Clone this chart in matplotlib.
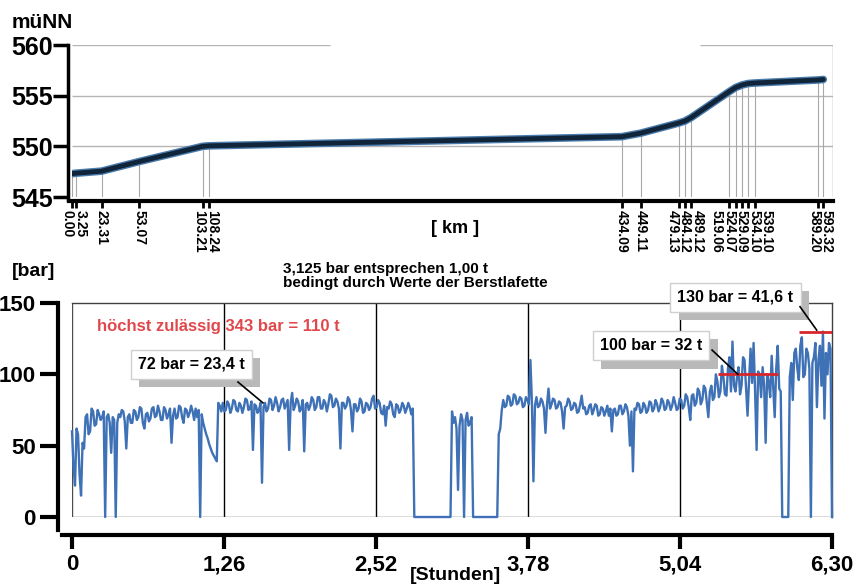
import numpy as np
import matplotlib
matplotlib.use('Agg')
import matplotlib.pyplot as plt
import matplotlib.patheffects as pe

plt.rcParams['font.family'] = ['Liberation Sans', 'DejaVu Sans']
plt.rcParams['font.weight'] = 'bold'

# Hoehenprofil der Strecke
km = [0.00, 3.25, 23.31, 53.07, 103.21, 108.24, 434.09, 449.11, 479.13, 484.12,
      489.12, 519.06, 524.07, 529.09, 534.10, 539.10, 589.20, 593.32]
hoehe = [547.3, 547.35, 547.55, 548.5, 550.0, 550.05, 550.95, 551.3, 552.3, 552.5,
         552.85, 555.4, 555.8, 556.05, 556.2, 556.25, 556.55, 556.6]
km_labels = ['%.2f' % k for k in km]
hoehe_ticks = [545, 550, 555, 560]

# Druckverlauf, ein Wert je 0,0125 h (eine Zeile = 0,25 h)
dt = 0.0125
druck = [
    60, 35, 22, 62, 58, 30, 15, 52, 48, 70, 72, 58, 60, 76, 74, 64, 65, 75, 72, 68,
    70, 74, 0, 70, 72, 66, 45, 70, 68, 0, 66, 72, 70, 75, 74, 67, 48, 70, 72, 66,
    66, 75, 74, 68, 70, 77, 76, 66, 62, 72, 73, 67, 69, 76, 77, 70, 71, 78, 74, 68,
    68, 77, 75, 69, 72, 76, 52, 71, 76, 69, 70, 78, 77, 70, 66, 76, 75, 70, 73, 78,
    74, 68, 76, 70, 75, 0, 72, 66, 62, 58, 55, 51, 48, 45, 43, 41, 39, 80, 78, 74,
    80, 74, 75, 81, 79, 73, 76, 82, 81, 75, 74, 80, 78, 73, 77, 83, 82, 75, 76, 81,
    47, 79, 78, 73, 75, 80, 24, 77, 80, 74, 76, 83, 82, 75, 78, 84, 80, 74, 77, 82,
    83, 76, 79, 82, 47, 80, 87, 75, 78, 83, 81, 74, 76, 82, 46, 79, 80, 75, 78, 84,
    82, 75, 77, 84, 84, 76, 76, 82, 80, 74, 79, 86, 85, 77, 78, 83, 81, 76, 48, 80,
    80, 76, 78, 84, 82, 75, 60, 79, 79, 74, 76, 83, 81, 73, 74, 80, 79, 75, 77, 83,
    85, 76, 77, 82, 80, 73, 72, 78, 64, 77, 76, 81, 79, 72, 70, 79, 78, 73, 75, 80,
    78, 73, 76, 80, 77, 72, 76, 0, 0, 0, 0, 0, 0, 0, 0, 0, 0, 0, 0, 0,
    0, 0, 0, 0, 0, 0, 0, 0, 0, 0, 0, 0, 74, 66, 70, 62, 19, 64, 72, 68,
    0, 68, 73, 64, 66, 70, 0, 0, 0, 0, 0, 0, 0, 0, 0, 0, 0, 0, 0, 0,
    0, 0, 0, 58, 62, 75, 82, 77, 78, 85, 84, 78, 79, 86, 85, 79, 80, 84, 83, 77,
    78, 84, 82, 79, 110, 80, 25, 78, 84, 77, 78, 83, 81, 76, 59, 79, 90, 76, 79, 83,
    82, 76, 77, 81, 80, 74, 62, 77, 78, 83, 81, 75, 76, 80, 79, 73, 74, 79, 85, 76,
    77, 72, 73, 78, 79, 72, 75, 79, 78, 71, 72, 77, 76, 71, 74, 78, 71, 76, 60, 75,
    76, 71, 72, 78, 78, 72, 74, 79, 77, 71, 50, 74, 32, 76, 75, 80, 79, 73, 74, 80,
    78, 73, 75, 81, 80, 74, 76, 82, 79, 74, 77, 83, 81, 75, 76, 82, 80, 75, 78, 84,
    80, 75, 76, 83, 82, 76, 78, 86, 84, 77, 68, 85, 86, 78, 80, 90, 88, 79, 82, 92,
    90, 80, 70, 88, 92, 82, 84, 100, 95, 84, 88, 106, 98, 86, 85, 104, 112, 88, 123, 92,
    88, 98, 105, 86, 92, 112, 110, 90, 71, 96, 118, 94, 122, 88, 47, 102, 100, 84, 105, 92,
    52, 100, 95, 84, 113, 92, 70, 104, 120, 90, 88, 0, 0, 0, 0, 0, 98, 108, 82, 115,
    118, 104, 96, 120, 126, 98, 100, 118, 115, 104, 0, 108, 112, 122, 77, 110, 120, 92, 130, 69,
    115, 100, 122, 118, 0,
]
stunden = np.arange(len(druck)) * dt
stunden_ticks = [0, 1.26, 2.52, 3.78, 5.04, 6.30]
stunden_labels = ['0', '1,26', '2,52', '3,78', '5,04', '6,30']
bar_ticks = [0, 50, 100, 150]

# markierte Druckwerte
marken_text = ['72 bar = 23,4 t', '100 bar = 32 t', '130 bar = 41,6 t']
grenz_bar = [100, 130]
grenz_von = [5.355, 6.03]
grenz_bis = [5.853, 6.30]


def spread(pos, gap):
    # zu nahe Beschriftungen auseinanderschieben, Gruppe um ihre Ticks zentriert
    clusters = [[p] for p in pos]
    i = 0
    while i < len(clusters) - 1:
        a, b = clusters[i], clusters[i + 1]
        a_right = np.mean(a) + (len(a) - 1) * gap / 2
        b_left = np.mean(b) - (len(b) - 1) * gap / 2
        if b_left - a_right < gap:
            clusters[i] = a + b
            del clusters[i + 1]
            i = max(i - 1, 0)
        else:
            i += 1
    out = []
    for c in clusters:
        m = np.mean(c)
        out += [m + (k - (len(c) - 1) / 2) * gap for k in range(len(c))]
    return out


def kasten(ax, x, y, text):
    t = ax.text(x, y, text, ha='center', va='center', fontsize=11.5, zorder=6,
                bbox=dict(boxstyle='square,pad=0.45', fc='white', ec='#cfcfcf', lw=1))
    t.get_bbox_patch().set_path_effects([
        pe.SimplePatchShadow(offset=(6, -6), shadow_rgbFace='#b9b9b9', alpha=1),
        pe.Normal()])


fig = plt.figure(figsize=(8.55, 5.87), dpi=100)

# ---- oben: Hoehenprofil ----
ax1 = fig.add_axes([72 / 855, 1 - 197 / 587, 761 / 855, 152 / 587])
xmax1 = 601
ax1.set_xlim(0, xmax1)
ax1.set_ylim(545, 560)
ax1.hlines([550, 555], 0, xmax1, color='#b5b5b5', lw=1, zorder=1)
ax1.hlines(560, 0, 204, color='#b5b5b5', lw=1, zorder=1)
ax1.hlines(560, 496, xmax1, color='#b5b5b5', lw=1, zorder=1)
ax1.vlines(xmax1, 545, 560, color='#9a9a9a', lw=1, zorder=1)
ax1.vlines(km, 545, hoehe, color='#a8a8a8', lw=0.8, zorder=2)
ax1.plot(km, hoehe, color='#4a7bab', lw=5.5, solid_capstyle='round', zorder=3)
ax1.plot(km, hoehe, color='#10243a', lw=3.5, solid_capstyle='round', zorder=4)

for s in ['top', 'right']:
    ax1.spines[s].set_visible(False)
ax1.spines['left'].set_position(('outward', 3))
ax1.spines['left'].set_linewidth(2.5)
ax1.spines['left'].set_bounds(544.7, 560)
ax1.spines['bottom'].set_position(('outward', 3))
ax1.spines['bottom'].set_linewidth(3)
ax1.spines['bottom'].set_bounds(-2.4, xmax1)
ax1.set_yticks(hoehe_ticks)
ax1.tick_params(axis='y', length=11, width=2.5, pad=0, labelsize=18)
ax1.set_xticks(km)
ax1.set_xticklabels([])
ax1.tick_params(axis='x', length=5, width=2)

gap_km = 12.5 * xmax1 / 761
for x, lab in zip(spread(km, gap_km), km_labels):
    ax1.text(x, -0.085, lab, transform=ax1.get_xaxis_transform(), rotation=270,
             ha='center', va='top', fontsize=10)

fig.text(12 / 855, 1 - 22 / 587, 'müNN', fontsize=15, va='center')
fig.text(455 / 855, 1 - 228 / 587, '[ km ]', fontsize=13, ha='center', va='center')

# ---- unten: Druckverlauf ----
ax2 = fig.add_axes([72 / 855, 1 - 517 / 587, 760 / 855, 214 / 587])
ax2.set_xlim(0, 6.3)
ax2.set_ylim(0, 150)
ax2.vlines(stunden_ticks[1:-1], 0, 150, color='black', lw=1, zorder=1)
ax2.axvline(0, color='0.3', lw=1, zorder=1)
ax2.axhline(0, color='0.3', lw=1, zorder=1)
ax2.plot(stunden, druck, color='#3e71b6', lw=1.7, zorder=3, clip_on=False)
ax2.hlines(grenz_bar, grenz_von, grenz_bis, color='#d8262c', lw=2, zorder=4)

for s in ['top', 'right']:
    ax2.spines[s].set_linewidth(1)
    ax2.spines[s].set_color('0.25')
ax2.spines['left'].set_position(('outward', 10))
ax2.spines['left'].set_linewidth(3)
ax2.spines['left'].set_bounds(-9.1, 150)
ax2.spines['bottom'].set_position(('outward', 13))
ax2.spines['bottom'].set_linewidth(3)
ax2.spines['bottom'].set_bounds(-0.083, 6.3)
ax2.set_yticks(bar_ticks)
ax2.tick_params(axis='y', length=13, width=3, pad=3, labelsize=16)
ax2.set_xticks(stunden_ticks)
ax2.set_xticklabels(stunden_labels)
ax2.tick_params(axis='x', length=10, width=3, pad=4, labelsize=16)

kasten(ax2, 0.99, 107, marken_text[0])
kasten(ax2, 4.80, 120, marken_text[1])
kasten(ax2, 5.50, 154, marken_text[2])
ax2.plot([1.376, 1.583], [94.6, 80], color='black', lw=1.2, zorder=7, clip_on=False)
ax2.plot([5.306, 5.52], [117, 100], color='black', lw=1.2, zorder=7, clip_on=False)
ax2.plot([6.035, 6.173], [147.4, 131], color='black', lw=1.2, zorder=7, clip_on=False)

ax2.text(0.205, 133.4, 'höchst zulässig 343 bar = 110 t', color='#e0484d',
         fontsize=12, va='center')
fig.text(283 / 855, 1 - 276 / 587,
         '3,125 bar entsprechen 1,00 t\nbedingt durch Werte der Berstlafette',
         fontsize=11, va='center', linespacing=1.0)
fig.text(12 / 855, 1 - 272 / 587, '[bar]', fontsize=14, va='center')
fig.text(455 / 855, 1 - 575 / 587, '[Stunden]', fontsize=14, ha='center', va='center')

fig.savefig('out.png', dpi=100)
